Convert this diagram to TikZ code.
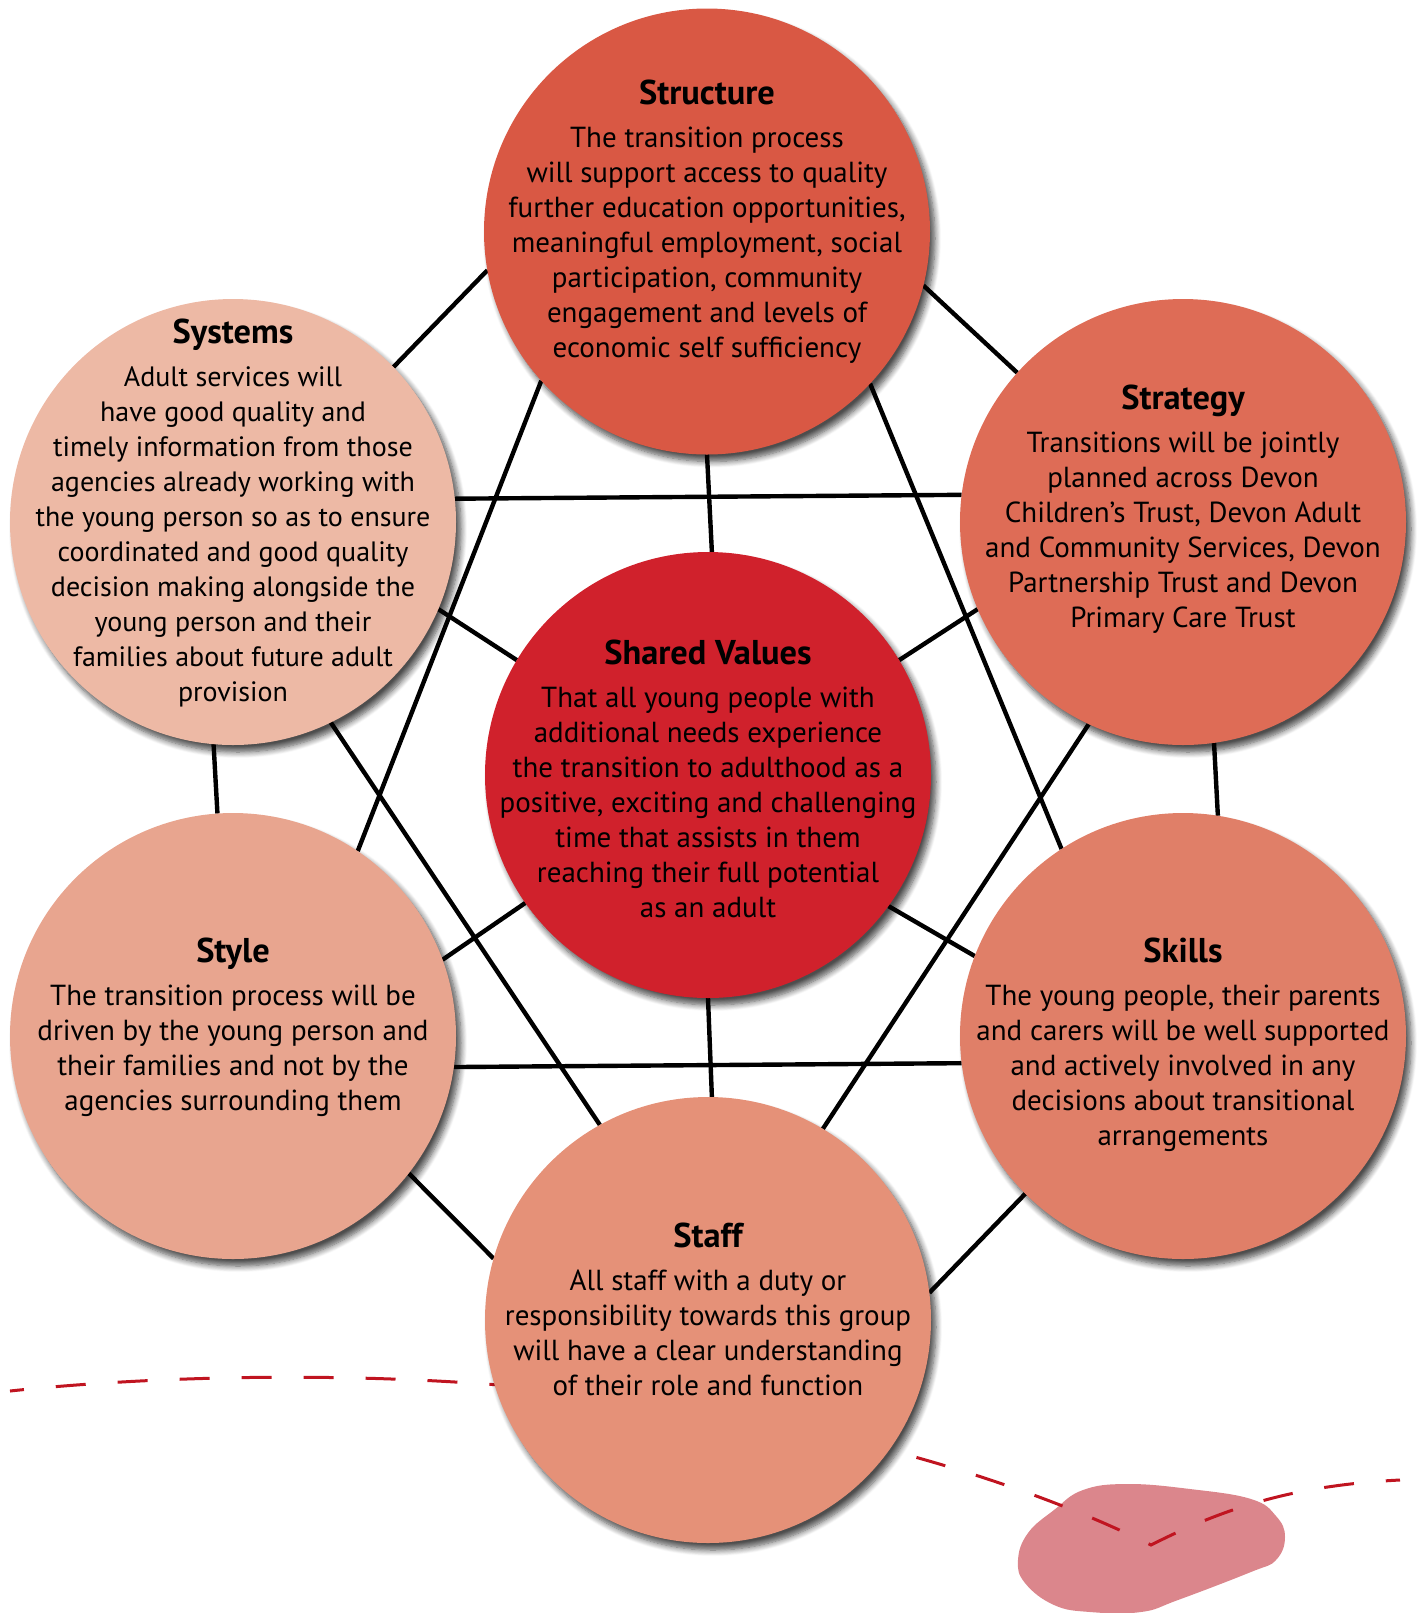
\documentclass[tikz,border=0pt]{standalone}
\usepackage{fontspec}
\setmainfont{PT Sans}
\usetikzlibrary{shapes,positioning,backgrounds,shadows.blur}

\definecolor{structurecol}{HTML}{D95844}
\definecolor{systemscol}{HTML}{EDB9A5}
\definecolor{strategycol}{HTML}{DE6C56}
\definecolor{sharedcol}{HTML}{D0212C}
\definecolor{stylecol}{HTML}{E8A58F}
\definecolor{skillscol}{HTML}{E07F68}
\definecolor{staffcol}{HTML}{E59178}
\definecolor{blobcol}{HTML}{DB868C}
\definecolor{dashcol}{HTML}{C01420}

% bold heading line on top of each bubble
\newcommand\heading[1]{{\bfseries\fontsize{17.2}{17.5}\selectfont #1}\\[4pt]}

\begin{document}
\begin{tikzpicture}[x=0.5pt,y=-0.5pt,
	value node/.style={circle,minimum size=223pt,inner sep=0pt,outer sep=0pt,
		blur shadow={shadow xshift=2.5pt,shadow yshift=-3.5pt,
			shadow blur radius=3pt,shadow blur steps=8,shadow opacity=70}},
	blurb/.style={align=center,font=\fontsize{14.5}{17.5}\selectfont},
	link/.style={line width=2.2pt,black}]

	\useasboundingbox (0,0) rectangle (1421,1613);

	\node[value node,fill=structurecol] (structure) at (707,231.5) {};
	\node[value node,fill=systemscol] (systems) at (233,522) {};
	\node[value node,fill=strategycol] (strategy) at (1183,522) {};
	\node[value node,fill=sharedcol] (shared) at (708,775) {};
	\node[value node,fill=stylecol] (style) at (233,1036) {};
	\node[value node,fill=skillscol] (skills) at (1183,1036) {};
	\node[value node,fill=staffcol] (staff) at (708,1320) {};

	\node[blurb,yshift=4.75pt] (structure text) at (structure) {\heading{Structure}%
		The transition process\\will support access to quality\\further education opportunities,\\%
		meaningful employment, social\\participation, community\\engagement and levels of\\%
		economic self sufficiency};
	\node[blurb,yshift=4.5pt,font=\fontsize{14}{17.5}\selectfont] (systems text) at (systems) {\heading{Systems}%
		Adult services will\\have good quality and\\timely information from those\\%
		agencies already working with\\the young person so as to ensure\\%
		coordinated and good quality\\decision making alongside the\\%
		young person and their\\families about future adult\\provision};
	\node[blurb,yshift=6.5pt] (strategy text) at (strategy) {\heading{Strategy}%
		Transitions will be jointly\\planned across Devon\\Children’s Trust, Devon Adult\\%
		and Community Services, Devon\\Partnership Trust and Devon\\Primary Care Trust};
	\node[blurb,yshift=-2pt] (shared text) at (shared) {\heading{Shared Values}%
		That all young people with\\additional needs experience\\the transition to adulthood as a\\%
		positive, exciting and challenging\\time that assists in them\\%
		reaching their full potential\\as an adult};
	\node[blurb,yshift=4.5pt] (style text) at (style) {\heading{Style}%
		The transition process will be\\driven by the young person and\\%
		their families and not by the\\agencies surrounding them};
	\node[blurb,yshift=-4.5pt] (skills text) at (skills) {\heading{Skills}%
		The young people, their parents\\and carers will be well supported\\%
		and actively involved in any\\decisions about transitional\\arrangements};
	\node[blurb,yshift=5.25pt] (staff text) at (staff) {\heading{Staff}%
		All staff with a duty or\\responsibility towards this group\\%
		will have a clear understanding\\of their role and function};

	\begin{scope}[on background layer]
		% pebble and the dashed trail in the lower corner
		\fill[blobcol] plot[smooth cycle,tension=0.7] coordinates {
			(1083,1490) (1127,1484) (1190,1489) (1251,1499) (1276,1516) (1285,1537)
			(1276,1560) (1251,1572) (1178,1600) (1141,1612) (1090,1612) (1054,1605)
			(1025,1583) (1018,1560) (1028,1533) (1054,1510)};
		\draw[dashcol,line width=1.5pt,dash pattern=on 15pt off 16pt,dash phase=8pt]
			(10,1391) .. controls (150,1376) and (380,1368) .. (600,1395)
			.. controls (800,1420) and (1000,1470) .. (1151,1545)
			.. controls (1230,1505) and (1300,1485) .. (1400,1480);

		\path[link]
			(structure.190.3) edge (systems.44.1)
			(structure.346.5) edge (strategy.138.8)
			(structure.270.8) edge (shared.89.5)
			(structure.222.8) edge (style.56.6)
			(structure.317.6) edge (skills.123)
			(systems.6.4) edge (strategy.173.6)
			(systems.337.6) edge (shared.149)
			(systems.265.8) edge (style.94.2)
			(systems.296.1) edge (staff.119.3)
			(strategy.203.7) edge (shared.31.5)
			(strategy.278.8) edge (skills.81.2)
			(strategy.245.6) edge (staff.59.1)
			(shared.215.5) edge (style.20.8)
			(shared.324.8) edge (skills.159.1)
			(style.352.7) edge (skills.187.3)
			(style.322.1) edge (staff.164.1)
			(skills.225) edge (staff.7.8)
			(shared.270.5) edge (staff.89.5);
	\end{scope}
\end{tikzpicture}
\end{document}
